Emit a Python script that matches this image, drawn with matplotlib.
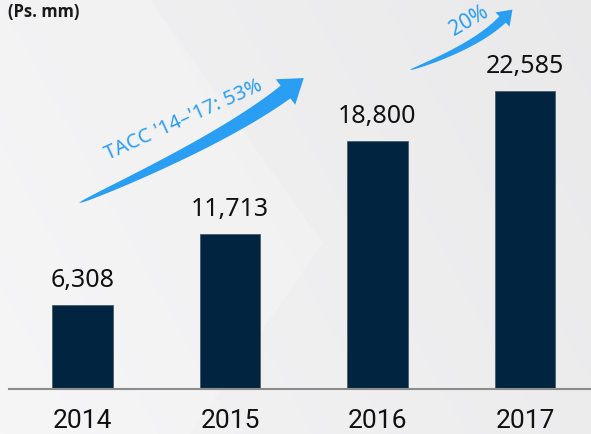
import numpy as np
import matplotlib.pyplot as plt
from matplotlib.patches import Polygon

# data
years = ['2014', '2015', '2016', '2017']
volumes = [6308, 11713, 18800, 22585]
unit_label = '(Ps. mm)'
cagr_label = "TACC '14–'17: 53%"
growth_label = '20%'

W, H = 591, 434
bar_color = '#012541'
blue = '#299ef3'

fig = plt.figure(figsize=(W / 100, H / 100), dpi=100)

# background with a soft lighter chevron
bg = fig.add_axes([0, 0, 1, 1], zorder=0)
gx = np.linspace(0, 1, 200)
gy = np.linspace(0, 1, 200)
GX, GY = np.meshgrid(gx, gy)
shade = 0.945 - 0.03 * GX + 0.012 * GY
bg.imshow(np.dstack([shade, shade, shade + 0.005]).clip(0, 1),
          extent=(0, W, H, 0), aspect='auto')
bg.add_patch(Polygon([(0, 0), (150, 0), (323, 243), (190, H), (0, H)],
                     closed=True, facecolor='white', alpha=0.2, lw=0))
bg.set_xlim(0, W)
bg.set_ylim(H, 0)
bg.axis('off')

# bars
base_px = 388.5
ax = fig.add_axes([9 / W, (H - base_px) / H, (W - 9) / W, base_px / H], zorder=1)
ax.patch.set_alpha(0)
x = np.arange(len(years))
ax.bar(x, volumes, width=0.41, color=bar_color, edgecolor='#4a5b6a', linewidth=0.6)
ax.set_xlim(-0.5, 3.448)
ax.set_ylim(0, 29494)
for s in ['left', 'top', 'right']:
    ax.spines[s].set_visible(False)
ax.spines['bottom'].set_color('#8c8c8c')
ax.spines['bottom'].set_linewidth(1.5)
ax.set_yticks([])
ax.set_xticks(x, years, fontsize=19, family='Roboto', color='#111111')
ax.tick_params(axis='x', length=0, pad=15)

for i, v in enumerate(volumes):
    ax.annotate(f'{v:,}', (i, v), xytext=(0, 13), textcoords='offset points',
                ha='center', va='baseline', fontsize=18, family='Noto Sans',
                color='#111111')

# overlay for arrows and notes, pixel coordinates
ov = fig.add_axes([0, 0, 1, 1], zorder=2)
ov.patch.set_alpha(0)
ov.set_xlim(0, W)
ov.set_ylim(H, 0)
ov.axis('off')


def curved_arrow(axis, p0, p1, p2, w_end, head_w, head_l, color):
    p0, p1, p2 = np.array(p0, float), np.array(p1, float), np.array(p2, float)
    t = np.linspace(0, 1, 80)[:, None]
    pts = (1 - t) ** 2 * p0 + 2 * (1 - t) * t * p1 + t ** 2 * p2
    d = 2 * (1 - t) * (p1 - p0) + 2 * t * (p2 - p1)
    d = d / np.linalg.norm(d, axis=1, keepdims=True)
    n = np.column_stack([-d[:, 1], d[:, 0]])
    w = (w_end / 2) * t ** 0.5
    upper = pts + n * w
    lower = pts - n * w
    tip = p2 + d[-1] * head_l
    wing1 = p2 + n[-1] * head_w
    wing2 = p2 - n[-1] * head_w
    poly = np.vstack([upper, wing1, tip, wing2, lower[::-1]])
    axis.add_patch(Polygon(poly, closed=True, facecolor=color, lw=0))


curved_arrow(ov, (79, 203), (224, 139), (285.5, 92), 16, 16, 23, blue)
curved_arrow(ov, (410, 70), (476, 46), (502.5, 19.5), 9, 10, 14, blue)

ov.text(108, 160, cagr_label, rotation=24.4, rotation_mode='anchor',
        ha='left', va='baseline', color=blue, fontsize=14.5, family='Noto Sans')
ov.text(469, 21, growth_label, rotation=30, rotation_mode='anchor',
        ha='center', va='center', color=blue, fontsize=15, family='Noto Sans')
ov.text(8, 3, unit_label, ha='left', va='top', fontsize=12, fontweight='bold',
        family=['Open Sans', 'DejaVu Sans'], color='#1a1a1a')

fig.savefig('out.png', dpi=100)
